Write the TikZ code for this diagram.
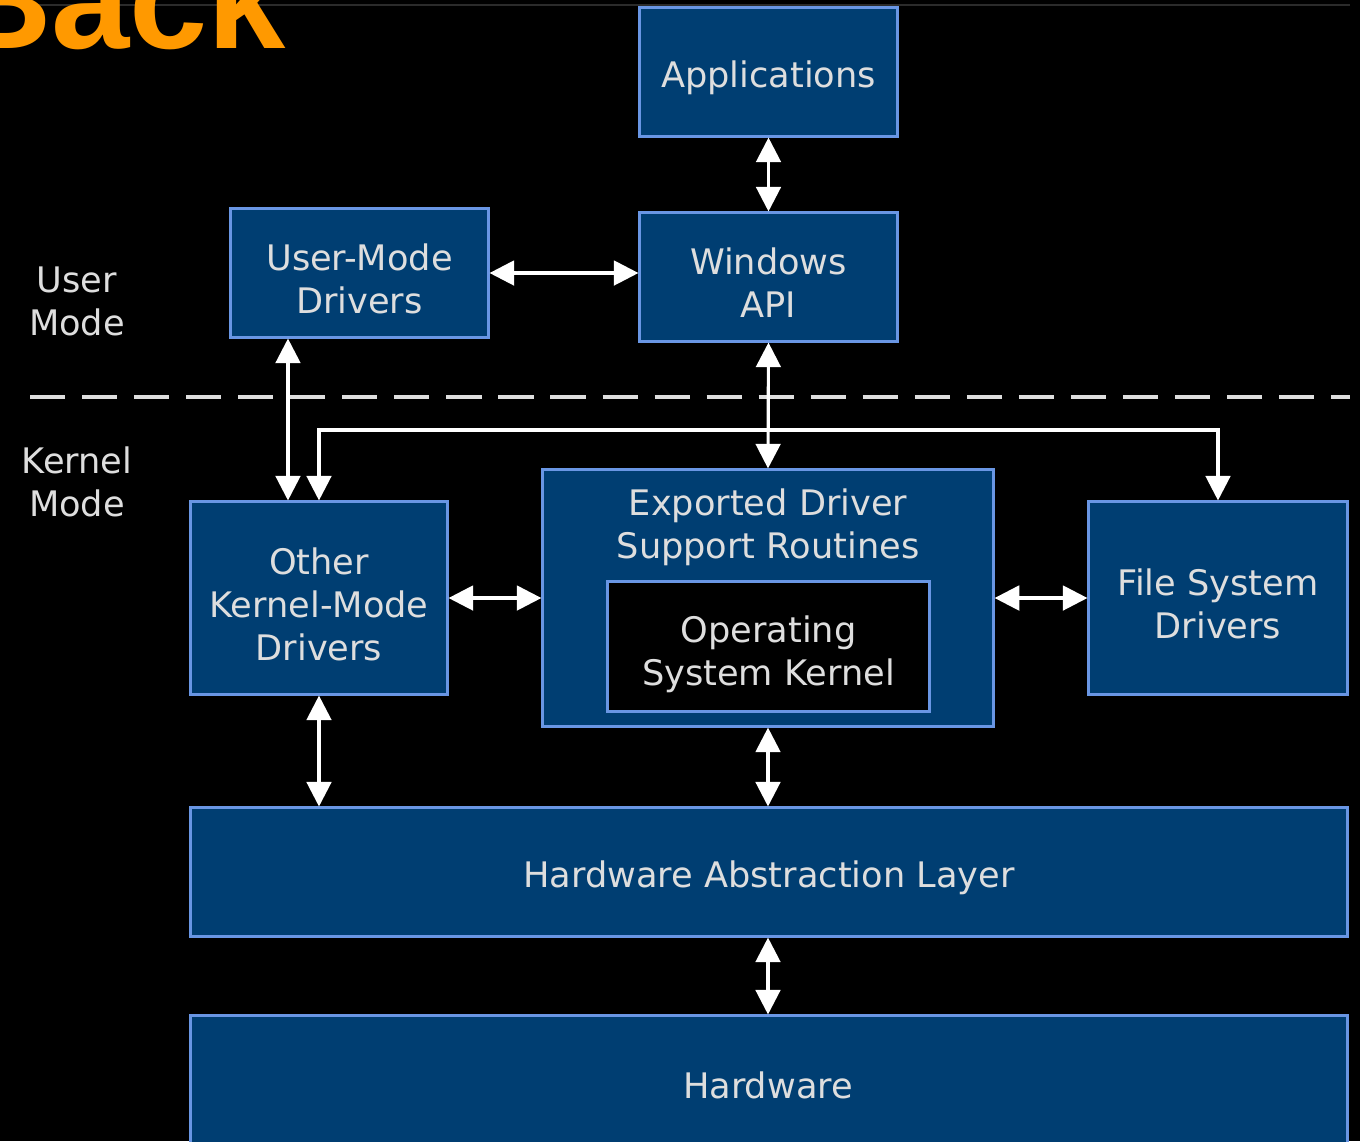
\documentclass[tikz,border=0pt]{standalone}
\usepackage{fontspec}
\setmainfont{DejaVu Sans}
\newfontfamily\backfont{Liberation Sans}
\usetikzlibrary{arrows.meta}
\definecolor{boxfill}{RGB}{0,62,114}
\definecolor{boxline}{RGB}{105,150,228}
\definecolor{txtgray}{RGB}{222,222,222}
\definecolor{slideorange}{RGB}{255,153,0}
\tikzset{
  layer/.style={draw=boxline, fill=boxfill, line width=0.85pt, inner sep=0pt},
  boxtext/.style={text=txtgray, align=center, inner sep=0pt, yshift=-0.06cm, font=\fontsize{10}{12.2}\selectfont},
  modelabel/.style={text=txtgray, align=center, inner sep=0pt, font=\fontsize{10}{12.2}\selectfont},
  link/.style={white, line width=0.9pt, {Triangle[length=7pt,width=7pt]}-{Triangle[length=7pt,width=7pt]}},
}
\begin{document}
\begin{tikzpicture}[x=0.01cm,y=-0.01cm]
\fill[black] (0,0) rectangle (1360,1141);
\useasboundingbox (0,0) rectangle (1360,1141);
\draw[black!83!white, line width=0.6pt] (0,5) -- (1350,5);
\node[anchor=base east, inner sep=0pt, text=slideorange, font=\fontsize{40}{40}\selectfont\backfont\bfseries] (title) at (287,48) {Back};
% user mode
\node[layer, minimum width=2.57cm, minimum height=1.28cm, label={[boxtext]center:Applications}] (apps) at (768.5,72) {};
\node[layer, minimum width=2.57cm, minimum height=1.28cm, label={[boxtext]center:{Windows\\API}}] (api) at (768.5,277) {};
\node[layer, minimum width=2.57cm, minimum height=1.28cm, label={[boxtext]center:{User-Mode\\Drivers}}] (umd) at (359.5,273) {};
\node[modelabel] (user) at (77,301) {User\\Mode};
\node[modelabel] (kernel) at (77,482) {Kernel\\Mode};
\draw[txtgray, line width=1.15pt, dash pattern=on 10pt off 4.8pt] (30,397) -- (1350,397);
% kernel mode
\node[layer, minimum width=2.56cm, minimum height=1.92cm, label={[boxtext]center:{Other\\Kernel-Mode\\Drivers}}] (okd) at (319,598) {};
\node[layer, minimum width=4.5cm, minimum height=2.56cm] (edsr) at (768,598) {};
\node[modelabel] (edsrtxt) at (768,527) {Exported Driver\\Support Routines};
\node[layer, fill=black, minimum width=3.21cm, minimum height=1.29cm, label={[boxtext, yshift=-0.02cm]center:{Operating\\System Kernel}}] (osk) at (768.5,646.5) {};
\node[layer, minimum width=2.58cm, minimum height=1.92cm, label={[boxtext]center:{File System\\Drivers}}] (fsd) at (1218,598) {};
\node[layer, minimum width=11.56cm, minimum height=1.28cm, label={[boxtext]center:Hardware Abstraction Layer}] (hal) at (769,872) {};
\node[layer, minimum width=11.56cm, minimum height=1.44cm] (hw) at (769,1088) {};
\node[modelabel] (hwtxt) at (768,1085) {Hardware};
\coordinate (bus) at (768,430);
% connectors
\draw[link] (apps.south) -- (api.north);
\draw[link] (umd.east) -- (api.west |- umd.east);
\draw[link] ([xshift=-0.31cm]okd.north |- umd.south) -- ([xshift=-0.31cm]okd.north);
\draw[link] (api.south) -- (edsr.north);
\draw[link] (okd.north) |- (bus) -| (fsd.north);
\draw[link] (okd.east) -- (edsr.west);
\draw[link] (edsr.east) -- (fsd.west);
\draw[link] (okd.south) -- (okd.south |- hal.north);
\draw[link] (edsr.south) -- (edsr.south |- hal.north);
\draw[link] (hal.south -| hwtxt) -- (hw.north -| hwtxt);
\end{tikzpicture}
\end{document}
